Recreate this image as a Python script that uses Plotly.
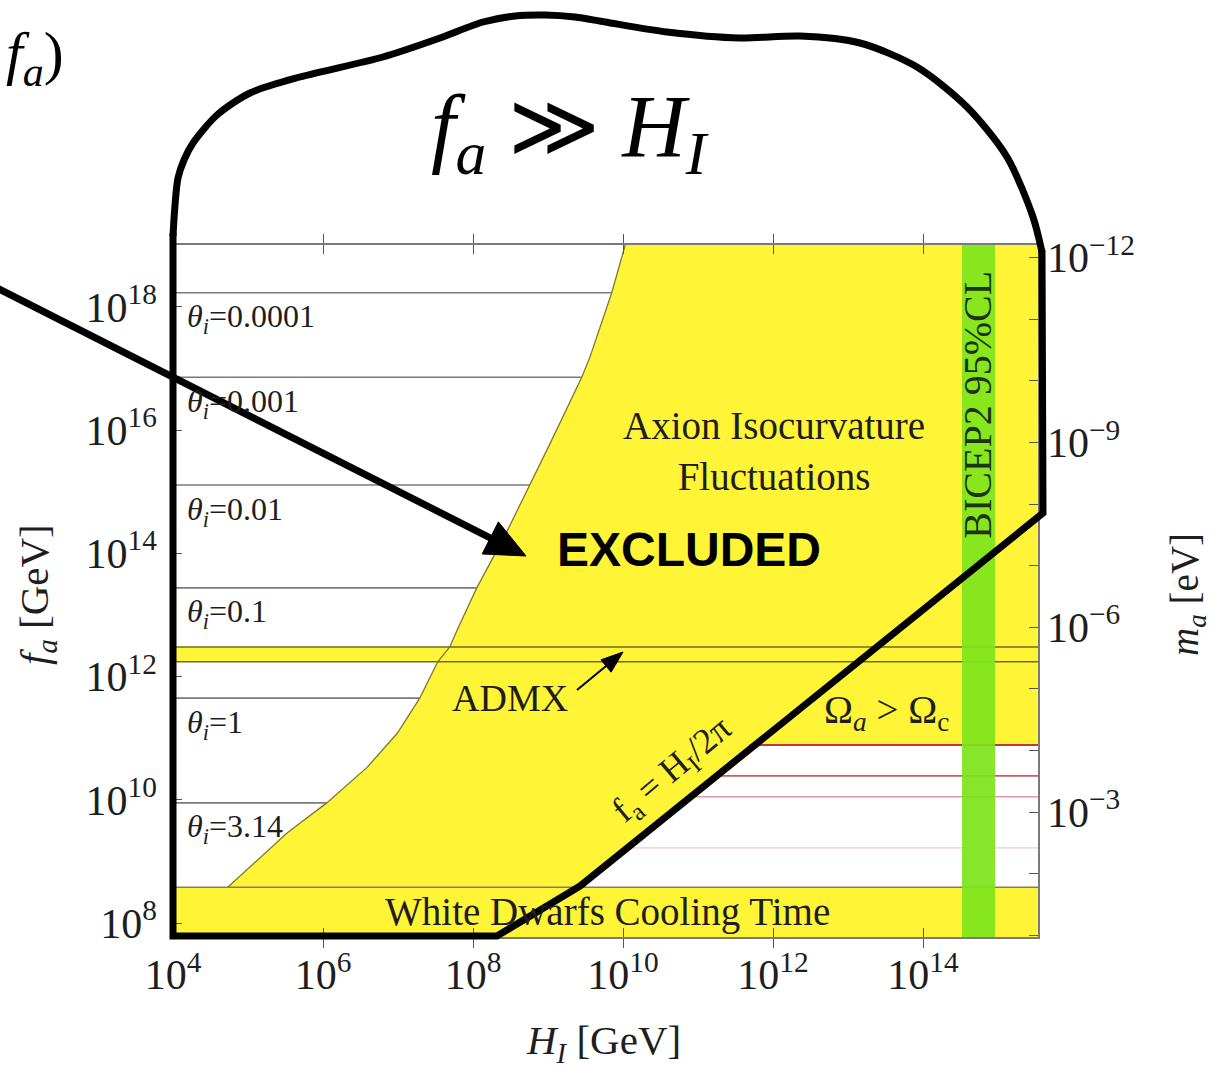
import numpy as np
import plotly.graph_objects as go

# ---------------- canvas / plot frame (pixels) ----------------
W, H = 1215, 1068
PLOT_L, PLOT_R, PLOT_T, PLOT_B = 173, 1038, 245, 937

# ---------------- axis ranges (log10 units) ----------------
x_range = [4.0, 15.533]          # log10 H_I [GeV]
y_range = [7.773, 19.006]        # log10 f_a [GeV]
ma_offset = 6.8                  # log10 m_a[eV] = 6.8 - log10 f_a[GeV]
log_2pi = np.log10(2 * np.pi)    # f_a = H_I / 2pi

# ---------------- data ----------------
# isocurvature bound on the misalignment region (log10 H_I, log10 f_a)
iso_logH = [4.73, 5.52, 6.05, 6.59, 6.99, 7.29, 7.53, 7.69, 7.79, 8.05, 8.43,
            8.76, 9.03, 9.45, 9.56, 9.85, 10.03]
iso_logf = [8.58, 9.46, 9.95, 10.53, 11.08, 11.65, 12.24, 12.48, 12.76, 13.44, 14.30,
            15.11, 15.79, 16.86, 17.19, 18.23, 19.01]

# initial misalignment angle contours
theta_labels = ["0.0001", "0.001", "0.01", "0.1", "1", "3.14"]
theta_logf = [18.23, 16.86, 15.11, 13.44, 11.65, 9.95]

# relic abundance contours in the post-inflationary region
relic_logf = [10.89, 10.39, 10.05, 9.22]
relic_colors = ["#c9333b", "#d25a5f", "#e39a9c", "#f3c9ca"]
relic_widths = [2.2, 1.8, 1.6, 1.4]

wd_logf = 8.58                 # white dwarf cooling bound
admx_logf = [12.24, 12.48]     # ADMX excluded band
bicep_logH = [14.52, 14.96]    # BICEP2 95% CL band
omega_logf = relic_logf[0]     # Omega_a > Omega_c boundary

x_tick_exp = [4, 6, 8, 10, 12, 14]
y_tick_exp = [8, 10, 12, 14, 16, 18]
ma_tick_exp = list(range(-12, 0))
ma_label_exp = [-12, -9, -6, -3]

YELLOW = "#fff536"
GREEN = "#7ee41c"
EDGE = "#7d7a2c"
GRAY = "#7a7a7a"
SERIF = "Liberation Serif"
TXT = "#1e1e1e"


def lin(v):
    return [10.0 ** a for a in v]


fig = go.Figure()


def fill_poly(xs, ys, color, opacity=1.0):
    fig.add_trace(go.Scatter(x=lin(xs), y=lin(ys), mode="lines", fill="toself",
                             fillcolor=color, opacity=opacity, line=dict(width=0),
                             hoverinfo="skip", showlegend=False))


def hline(logf, x0, x1, color, width):
    fig.add_trace(go.Scatter(x=lin([x0, x1]), y=lin([logf, logf]), mode="lines",
                             line=dict(color=color, width=width),
                             hoverinfo="skip", showlegend=False))


# excluded region: isocurvature + overproduction (Omega_a > Omega_c)
poly_H = iso_logH + [iso_logH[-1], 16.5, 16.5, omega_logf + log_2pi, wd_logf + log_2pi]
poly_f = iso_logf + [19.6, 19.6, omega_logf, omega_logf, wd_logf]
fill_poly(poly_H, poly_f, YELLOW)

# white dwarf cooling band and ADMX band
fill_poly([3, 17, 17, 3], [7, 7, wd_logf, wd_logf], YELLOW)
fill_poly([3, 17, 17, 3], [admx_logf[0], admx_logf[0], admx_logf[1], admx_logf[1]], YELLOW)

# theta_i contours, ending at the isocurvature bound
for lf in theta_logf:
    x_end = float(np.interp(lf, iso_logf, iso_logH))
    hline(lf, 3.9, x_end, GRAY, 1.6)

# relic abundance contours, starting at f_a = H_I / 2pi
for lf, c, w in zip(relic_logf, relic_colors, relic_widths):
    hline(lf, lf + log_2pi, 16.5, c, w)

hline(wd_logf, 3.9, 16.5, GRAY, 1.6)
for lf in admx_logf:
    hline(lf, 3.9, 16.5, "#6d6a22", 1.6)

# edge of the isocurvature region
fig.add_trace(go.Scatter(x=lin(iso_logH), y=lin(iso_logf), mode="lines",
                         line=dict(color=EDGE, width=1.3), hoverinfo="skip",
                         showlegend=False))

# BICEP2 band
fill_poly([bicep_logH[0], bicep_logH[1], bicep_logH[1], bicep_logH[0]],
          [7, 7, 20, 20], GREEN, opacity=0.93)

# right axis carrier
fig.add_trace(go.Scatter(x=[], y=[], yaxis="y2", showlegend=False))

# ---------------- hand-drawn overlay (pixel frame) ----------------
outline_arc = [(173, 236), (175, 205), (178, 178), (184, 160), (193, 143), (217, 115),
               (250, 93), (300, 77), (383, 57), (440, 38), (483, 22), (515, 16),
               (545, 15), (575, 17), (605, 22), (667, 32), (740, 38), (800, 36),
               (860, 43), (917, 67), (967, 107), (1007, 157), (1033, 217), (1042, 252)]
outline_poly = [(1042, 250), (1043, 513), (580, 886), (497, 936), (173, 936), (173, 233)]

fig.add_trace(go.Scatter(x=[p[0] for p in outline_arc], y=[p[1] for p in outline_arc],
                         mode="lines", line=dict(color="black", width=7, shape="spline",
                                                 smoothing=0.8),
                         xaxis="x3", yaxis="y3", hoverinfo="skip", showlegend=False))
fig.add_trace(go.Scatter(x=[p[0] for p in outline_poly], y=[p[1] for p in outline_poly],
                         mode="lines", line=dict(color="black", width=7),
                         xaxis="x3", yaxis="y3", hoverinfo="skip", showlegend=False))


def arrow(tail, tip, width, head_len, head_half):
    dx, dy = tip[0] - tail[0], tip[1] - tail[1]
    n = np.hypot(dx, dy)
    ux, uy = dx / n, dy / n
    bx, by = tip[0] - ux * head_len, tip[1] - uy * head_len
    nx, ny = -uy, ux
    fig.add_trace(go.Scatter(x=[tail[0], bx + ux * 2], y=[tail[1], by + uy * 2], mode="lines",
                             line=dict(color="black", width=width),
                             xaxis="x3", yaxis="y3", hoverinfo="skip", showlegend=False))
    fig.add_trace(go.Scatter(x=[tip[0], bx + nx * head_half, bx - nx * head_half, tip[0]],
                             y=[tip[1], by + ny * head_half, by - ny * head_half, tip[1]],
                             mode="lines", fill="toself", fillcolor="black",
                             line=dict(color="black", width=1),
                             xaxis="x3", yaxis="y3", hoverinfo="skip", showlegend=False))


arrow((-5, 287), (526, 556), 7, 40, 18)
arrow((577, 690), (623, 652), 2, 22, 8)

# ---------------- annotations ----------------
ann = []


def note(text, x, y, size=39, angle=0, ref=("x", "y"), family=SERIF, color=TXT,
         xanchor="center", yanchor="middle", xshift=0, yshift=0):
    ann.append(dict(text=text, x=x, y=y, xref=ref[0], yref=ref[1], showarrow=False,
                    textangle=angle, xanchor=xanchor, yanchor=yanchor,
                    xshift=xshift, yshift=yshift,
                    font=dict(family=family, size=size, color=color)))


for lab, lf in zip(theta_labels, theta_logf):
    note("<i>θ</i><sub><i>i</i></sub>=" + lab, x_range[0], lf, size=32,
         xanchor="left", xshift=12, yshift=-26)

note("Axion Isocurvature<br>Fluctuations", 12.01, 15.66)
note("ADMX", 8.49, 11.65, size=38)
note("White Dwarfs Cooling Time", 9.79, 8.18)
note("Ω<sub><i>a</i></sub> > Ω<sub>c</sub>", 13.51, 11.41)
note("BICEP2 95%CL", 14.73, 16.41, size=40, angle=-90, color="#1d3313")
note("f<sub>a</sub> = H<sub>I</sub>/2π", 10.67, 10.47, size=36, angle=-40)

P = ("x3", "y3")
note("<b>EXCLUDED</b>", 689, 549, size=48, ref=P, family="Liberation Sans", color="black")
note("<i>f</i><sub><i>a</i></sub> ≫ <i>H</i><sub><i>I</i></sub>", 570, 132, size=88,
     ref=P, color="black")
note("<i>f</i><sub><i>a</i></sub>)", 66, 57, size=60, ref=P, color="black",
     xanchor="right")
note("<i>f</i><sub><i>a</i></sub> [GeV]", 37, 595, size=41, angle=-90, ref=P)
note("<i>H</i><sub><i>I</i></sub> [GeV]", 603, 1043, size=41, ref=P)
note("<i>m</i><sub><i>a</i></sub> [eV]", 1187, 595, size=39, angle=-90, ref=P)

tickfont = dict(family=SERIF, size=42, color=TXT)

fig.update_layout(
    template="none",
    width=W, height=H,
    margin=dict(l=0, r=0, t=0, b=0),
    paper_bgcolor="white",
    plot_bgcolor="rgba(0,0,0,0)",
    showlegend=False,
    annotations=ann,
    xaxis=dict(type="log", range=x_range, domain=[PLOT_L / W, PLOT_R / W], anchor="y",
               showgrid=False, zeroline=False, showline=True, linecolor=GRAY, linewidth=1.5,
               mirror="allticks", ticks="inside", ticklen=9, tickwidth=1.3, tickcolor="#555",
               tickvals=lin(x_tick_exp),
               ticktext=["10<sup>%d</sup>" % e for e in x_tick_exp],
               tickfont=tickfont, automargin=False),
    yaxis=dict(type="log", range=y_range, domain=[1 - PLOT_B / H, 1 - PLOT_T / H], anchor="x",
               showgrid=False, zeroline=False, showline=True, linecolor=GRAY, linewidth=1.5,
               mirror=True, ticks="inside", ticklen=9, tickwidth=1.3, tickcolor="#555",
               tickvals=lin(y_tick_exp),
               ticktext=["10<sup>%d</sup>" % e for e in y_tick_exp],
               tickfont=tickfont, automargin=False, ticklabelstandoff=6),
    yaxis2=dict(type="log", overlaying="y", side="right", anchor="x",
                range=[ma_offset - y_range[0], ma_offset - y_range[1]],
                showgrid=False, zeroline=False, showline=False,
                ticks="inside", ticklen=9, tickwidth=1.3, tickcolor="#555",
                tickvals=lin(ma_tick_exp),
                ticktext=[("10<sup>−%d</sup>" % -e) if e in ma_label_exp else "" for e in ma_tick_exp],
                tickfont=tickfont, automargin=False, ticklabelstandoff=8),
    xaxis3=dict(domain=[0, 1], range=[0, W], anchor="y3", visible=False, fixedrange=True),
    yaxis3=dict(domain=[0, 1], range=[H, 0], anchor="x3", visible=False, fixedrange=True),
)

fig.write_html("out.html")
